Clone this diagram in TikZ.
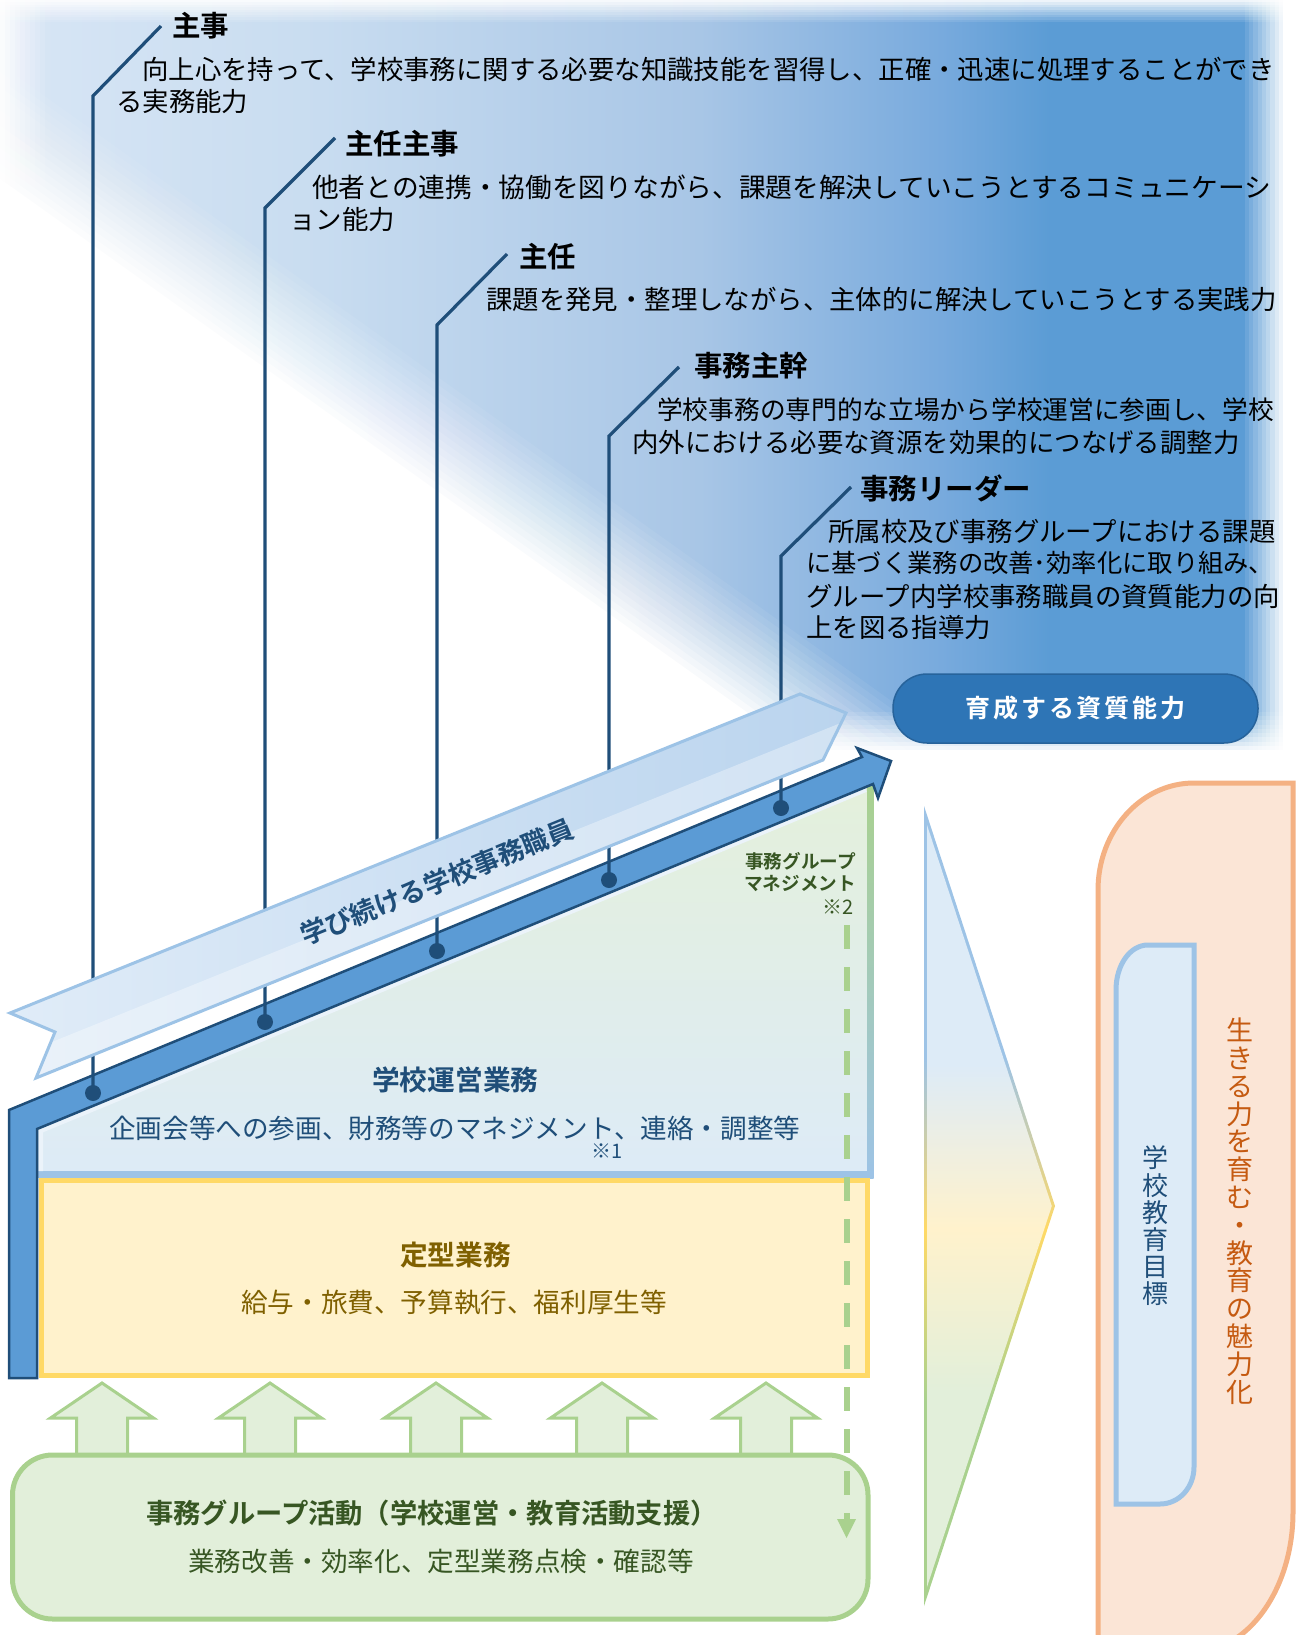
\documentclass[tikz,border=0pt]{standalone}
\usepackage{fontspec}
\newfontfamily\jp[BoldFont={Noto Sans CJK JP Bold}]{Noto Sans CJK JP}
\definecolor{navy}{HTML}{1F4E79}
\definecolor{bandblue}{HTML}{5B9BD5}
\definecolor{lblue}{HTML}{DDEBF7}
\definecolor{bblue}{HTML}{9DC3E6}
\definecolor{lgreen}{HTML}{E2EFDA}
\definecolor{ltgreen}{HTML}{E4F0DB}
\definecolor{bgreen}{HTML}{A9D18E}
\definecolor{dgreen}{HTML}{375623}
\definecolor{lyellow}{HTML}{FFF2CC}
\definecolor{byellow}{HTML}{FFD966}
\definecolor{dgold}{HTML}{7F6000}
\definecolor{lorange}{HTML}{FBE5D6}
\definecolor{borange}{HTML}{F4B183}
\definecolor{dorange}{HTML}{C55A11}
\definecolor{btnblue}{HTML}{2E75B6}
\definecolor{banL}{HTML}{E0ECF8}
\definecolor{banR}{HTML}{BAD4EE}
\pgfdeclarehorizontalshading{bgshade}{100bp}{rgb(0bp)=(0.847,0.902,0.961); rgb(25bp)=(0.847,0.902,0.961); rgb(37.5bp)=(0.784,0.863,0.941); rgb(52bp)=(0.659,0.776,0.902); rgb(61.3bp)=(0.471,0.667,0.867); rgb(65.5bp)=(0.357,0.612,0.835); rgb(100bp)=(0.357,0.612,0.835)}
\pgfdeclareverticalshading{funfill}{100bp}{color(0bp)=(lgreen); color(37.8bp)=(lgreen); color(48.5bp)=(lyellow); color(59.3bp)=(lblue); color(100bp)=(lblue)}
\pgfdeclareverticalshading{funborder}{100bp}{color(0bp)=(bgreen); color(37.8bp)=(bgreen); color(48.5bp)=(byellow); color(59.3bp)=(bblue); color(100bp)=(bblue)}
\tikzset{
  desc/.style={anchor=west, inner sep=0pt, font=\jp\fontsize{26.4}{30}\selectfont, text=black},
  lab/.style={anchor=west, inner sep=0pt, font=\jp\bfseries\fontsize{28.5}{32}\selectfont, text=black},
  lline/.style={draw=navy, line width=3.2pt, line join=miter},
  dot/.style={fill=navy},
  head/.style={anchor=west, inner sep=0pt, font=\jp\bfseries\fontsize{27.7}{30}\selectfont},
  body/.style={anchor=west, inner sep=0pt, font=\jp\fontsize{26.6}{30}\selectfont},
  note/.style={inner sep=0pt, font=\jp\fontsize{20}{22}\selectfont},
  uparrow/.style={draw=bgreen, fill=lgreen, line width=3pt, line join=miter}
}
\begin{document}
\begin{tikzpicture}[x=1pt,y=-1pt]
\useasboundingbox (0,0) rectangle (1296,1635);
% ---------- blue background with soft edges
\shade[shading=bgshade] (0,0) rectangle (1296,760);
\foreach \k in {1,...,16}{
  \pgfmathsetmacro\cc{80-160*(\k-1)/15}
  \pgfmathsetmacro\op{1/(17-\k)}
  \fill[white,fill opacity=\op] (-30,-30) -- ({1.4*(-30)-170+\cc},-30) -- ({1.4*820-170+\cc},820) -- (-30,820) -- cycle;
}
\foreach \k in {1,...,10}{
  \pgfmathsetmacro\op{1/(11-\k)}
  \pgfmathsetmacro\bb{712+38*(\k-1)/9}
  \pgfmathsetmacro\rr{1245+38*(\k-1)/9}
  \pgfmathsetmacro\tt{22-22*(\k-1)/9}
  \pgfmathsetmacro\ll{45-45*(\k-1)/9}
  \fill[white,fill opacity=\op] (-30,\bb) rectangle (1330,830);
  \fill[white,fill opacity=\op] (\rr,-30) rectangle (1330,830);
  \fill[white,fill opacity=\op] (-30,-30) rectangle (1330,\tt);
  \fill[white,fill opacity=\op] (-30,-30) rectangle (\ll,830);
}
% ---------- school management area
\shade[top color=ltgreen, bottom color=lblue] (37,1129) -- (870,784) -- (870,1175) -- (37,1175) -- cycle;
\shade[top color=bgreen, bottom color=bblue] (867,784) rectangle (873.5,1178);
\fill[bblue] (37,1171) rectangle (873.5,1178);
\draw[color=lblue!60!white, line width=4pt] (41,1171) -- (41,1131) -- (866,790);
\node[head, text=navy] (unei) at (372,1080) {学校運営業務};
\node[body, text=navy] (uneitxt) at (109,1128) {企画会等への参画、財務等のマネジメント、連絡・調整等};
\node[note, text=navy] (note1) at (607,1151) {※1};
% ---------- routine work box
\draw[byellow, fill=lyellow, line width=5pt] (41.5,1180.5) rectangle (867.5,1375.5);
\node[head, text=dgold] (teikei) at (400,1255) {定型業務};
\node[body, text=dgold] (teikeitxt) at (241,1303) {給与・旅費、予算執行、福利厚生等};
% ---------- up arrows and group activity box
\foreach \x in {102,270,436,602,766}{
  \draw[uparrow] (\x-25.5,1458) -- (\x-25.5,1418) -- (\x-51.5,1418) -- (\x,1383) -- (\x+51.5,1418) -- (\x+25.5,1418) -- (\x+25.5,1458);
}
\node[draw=bgreen, fill=lgreen, line width=5pt, rounded corners=40pt, minimum width=855.5pt, minimum height=164pt, inner sep=0pt] (grp) at (440.25,1537) {};
\node[anchor=west, inner sep=0pt, font=\jp\bfseries\fontsize{27.3}{30}\selectfont, text=dgreen] (grptitle) at (146,1513) {事務グループ活動（学校運営・教育活動支援）};
\node[body, text=dgreen] (grptxt) at (188,1561) {業務改善・効率化、定型業務点検・確認等};
% ---------- dashed management arrow
\node[anchor=east, align=right, inner sep=0pt, font=\jp\bfseries\fontsize{18.6}{22}\selectfont, text=dgreen] (mgmt) at (856,872) {事務グループ\\マネジメント};
\node[note, text=dgreen] (note2) at (838,907) {※2};
\coordinate (dashS) at (846.5,925);
\coordinate (dashE) at (846.5,1520);
\draw[bgreen, line width=6pt, dash pattern=on 23.5pt off 18.5pt] (dashS) -- (dashE);
\fill[bgreen] (837,1519) -- (856,1519) -- (846.5,1538) -- cycle;
% ---------- big bent blue arrow
\draw[navy, fill=bandblue, line width=2.5pt, line join=miter] (9,1378) -- (9,1110) -- (862,757) -- (857,748) -- (891,761) -- (878,798) -- (873,784) -- (37,1129) -- (37,1378) -- cycle;
% ---------- level lines
\coordinate (t1) at (161,26);  \coordinate (k1) at (93,96);   \coordinate (d1) at (93,1093);
\coordinate (t2) at (335,138); \coordinate (k2) at (265,208); \coordinate (d2) at (265,1022);
\coordinate (t3) at (507,254); \coordinate (k3) at (437,325); \coordinate (d3) at (437,951);
\coordinate (t4) at (679,367); \coordinate (k4) at (609,436); \coordinate (d4) at (609,880);
\coordinate (t5) at (851,487); \coordinate (k5) at (781,556); \coordinate (d5) at (781,808);
\foreach \i in {1,...,5}{
  \draw[lline] (t\i) -- (k\i) -- (d\i);
  \fill[dot] (d\i) circle[radius=8pt];
}
\node[lab] (l1) at (172,26) {主事};
\node[desc] (l1a) at (142,69) {向上心を持って、学校事務に関する必要な知識技能を習得し、正確・迅速に処理することができ};
\node[desc] (l1b) at (116,102) {る実務能力};
\node[lab] (l2) at (345,144) {主任主事};
\node[desc, font=\jp\fontsize{26.7}{30}\selectfont] (l2a) at (312,187) {他者との連携・協働を図りながら、課題を解決していこうとするコミュニケーシ};
\node[desc] (l2b) at (289,220) {ョン能力};
\node[lab] (l3) at (519,257) {主任};
\node[desc] (l3a) at (486,299) {課題を発見・整理しながら、主体的に解決していこうとする実践力};
\node[lab] (l4) at (694,366) {事務主幹};
\node[desc, font=\jp\fontsize{25.7}{30}\selectfont] (l4a) at (657,410) {学校事務の専門的な立場から学校運営に参画し、学校};
\node[desc] (l4b) at (632,442) {内外における必要な資源を効果的につなげる調整力};
\node[lab] (l5) at (860,488) {事務リーダー};
\node[desc] (l5a) at (828,531) {所属校及び事務グループにおける課題};
\node[desc, font=\jp\fontsize{25.3}{30}\selectfont] (l5b) at (806,563) {に基づく業務の改善･効率化に取り組み、};
\node[desc] (l5c) at (806,596) {グループ内学校事務職員の資質能力の向};
\node[desc] (l5d) at (806,627) {上を図る指導力};
% ---------- banner
\coordinate (bA) at (10,1013); \coordinate (bB) at (800,694); \coordinate (bC) at (846,713);
\coordinate (bD) at (823,760); \coordinate (bE) at (36,1078); \coordinate (bF) at (55,1032);
\shade[left color=banL, right color=banR] (bA) -- (bB) -- (bC) -- (bD) -- (bE) -- (bF) -- cycle;
\begin{scope}
  \clip (bA) -- (bB) -- (bC) -- (bD) -- (bE) -- (bF) -- cycle;
  \fill[white, fill opacity=0.35] (0,1100) -- (900,735) -- (900,699) -- (0,1063) -- cycle;
\end{scope}
\draw[bblue, line width=3pt, line join=miter] (bA) -- (bB) -- (bC) -- (bD) -- (bE) -- (bF) -- cycle;
\node[rotate=22, inner sep=0pt, font=\jp\bfseries\fontsize{26.5}{30}\selectfont, text=navy] (bantext) at (437,882) {学び続ける学校事務職員};
% ---------- button
\node[fill=btnblue, draw=btnblue!85!black, line width=1.5pt, rounded corners=34pt, minimum width=365pt, minimum height=69pt, inner sep=0pt, text=white, font=\jp\bfseries\fontsize{25}{25}\selectfont] (btn) at (1075.5,708.5) {\addfontfeature{LetterSpace=11}育成する資質能力};
% ---------- funnel
\shade[shading=funborder] (924,806) -- (1055,1206) -- (924,1606) -- cycle;
\shade[shading=funfill] (927,825) -- (1051.8,1206) -- (927,1587) -- cycle;
% ---------- orange goal shape
\draw[borange, fill=lorange, line width=5pt] (1098,1652) -- (1098,890) .. controls (1098,831) and (1141,783) .. (1194,783) -- (1293,783) -- (1293,1512) .. controls (1293,1589) and (1248,1652) .. (1193,1652) -- cycle;
\draw[bblue, fill=lblue, line width=5pt] (1116,1504) -- (1116,990) .. controls (1116,965) and (1130,945) .. (1148,945) -- (1194,945) -- (1194,1467) .. controls (1194,1487.5) and (1179,1504) .. (1160,1504) -- cycle;
\node[align=center, inner sep=0pt, font=\jp\fontsize{26}{27.2}\selectfont, text=navy] (goal) at (1155,1226) {学\\校\\教\\育\\目\\標};
\node[align=center, inner sep=0pt, font=\jp\fontsize{27}{27.8}\selectfont, text=dorange] (ikiru) at (1240,1211) {生\\き\\る\\力\\を\\育\\む\\・\\教\\育\\の\\魅\\力\\化};
\end{tikzpicture}
\end{document}
